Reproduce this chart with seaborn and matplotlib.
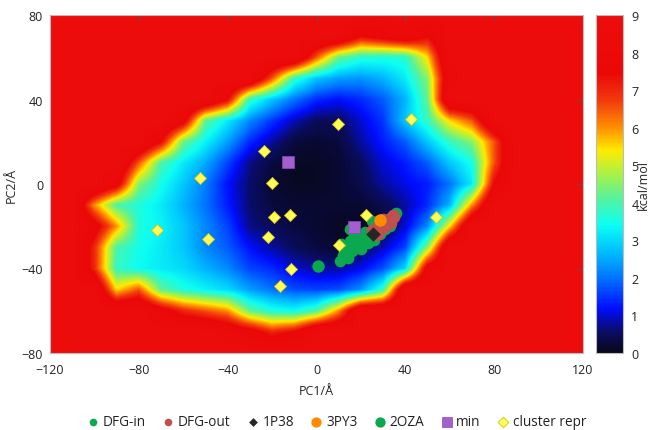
import matplotlib
matplotlib.use("Agg")
import matplotlib.pyplot as plt
import seaborn as sns
from matplotlib.colors import LinearSegmentedColormap

# free energy landscape (kcal/mol), every 10 A
# columns: PC1 = -120 ... 120, rows: PC2 = 80 ... -80
pc1_nodes = [-120, -110, -100, -90, -80, -70, -60, -50, -40, -30, -20, -10, 0,
             10, 20, 30, 40, 50, 60, 70, 80, 90, 100, 110, 120]
pc2_nodes = [80, 70, 60, 50, 40, 30, 20, 10, 0, -10, -20, -30, -40, -50, -60, -70, -80]
energy = [
    [9, 9, 9, 9, 9, 9, 9, 9, 9, 9, 9, 9, 9, 9, 9, 9, 9, 9, 9, 9, 9, 9, 9, 9, 9],
    [9, 9, 9, 9, 9, 9, 9, 9, 9, 9, 9, 9, 9, 9, 7.5, 8, 8.5, 7.5, 9, 9, 9, 9, 9, 9, 9],
    [9, 9, 9, 9, 9, 9, 9, 9, 9, 9, 9, 9, 6.5, 4.3, 3.7, 3.6, 3.7, 5.5, 9, 9, 9, 9, 9, 9, 9],
    [9, 9, 9, 9, 9, 9, 9, 9, 9, 9, 6.5, 3.8, 2.8, 2.4, 2.3, 2.6, 3.2, 4.5, 8.5, 9, 9, 9, 9, 9, 9],
    [9, 9, 9, 9, 9, 9, 9, 9, 7.5, 3.8, 2.8, 2.0, 1.4, 1.2, 1.4, 1.8, 2.6, 4.2, 9, 9, 9, 9, 9, 9, 9],
    [9, 9, 9, 9, 9, 9, 8, 4.2, 3.2, 2.2, 1.5, 0.9, 0.5, 0.5, 1.0, 1.5, 2.8, 3.8, 5.5, 6.5, 9, 9, 9, 9, 9],
    [9, 9, 9, 9, 9, 7.5, 4.3, 3.3, 2.4, 1.4, 0.8, 0.3, 0.2, 0.3, 0.8, 1.3, 1.8, 2.8, 3.8, 4.5, 6.5, 9, 9, 9, 9],
    [9, 9, 9, 9, 6.5, 4.0, 3.2, 2.5, 1.6, 0.7, 0.3, 0.1, 0.1, 0.2, 0.5, 1.0, 1.3, 1.8, 2.8, 3.5, 6.5, 9, 9, 9, 9],
    [9, 9, 9, 8, 4.5, 3.5, 2.8, 2.1, 1.2, 0.6, 0.2, 0.1, 0.1, 0.2, 0.4, 0.8, 1.1, 1.3, 2.0, 3.2, 7.5, 9, 9, 9, 9],
    [9, 9, 6, 4, 3.6, 3.2, 2.6, 2.0, 1.3, 0.6, 0.3, 0.2, 0.2, 0.2, 0.2, 0.4, 0.8, 1.4, 2.6, 6, 9, 9, 9, 9, 9],
    [9, 9, 8, 6, 3.6, 3.3, 2.8, 2.2, 1.6, 0.7, 0.5, 0.3, 0.2, 0.1, 0.1, 0.3, 1.0, 2.2, 5.5, 9, 9, 9, 9, 9, 9],
    [9, 9, 7, 4, 3.5, 3.2, 2.8, 2.2, 1.8, 1.2, 0.8, 0.5, 0.3, 0.2, 0.4, 0.9, 1.6, 4.5, 9, 9, 9, 9, 9, 9, 9],
    [9, 9, 7, 3.8, 3.4, 3.2, 3.0, 2.6, 2.2, 1.6, 1.4, 1.0, 0.8, 0.8, 1.1, 1.7, 3.0, 8, 9, 9, 9, 9, 9, 9, 9],
    [9, 9, 9, 5.5, 6.5, 4.2, 3.6, 3.3, 3.0, 2.4, 2.0, 1.7, 1.6, 1.7, 2.3, 3.8, 9, 9, 9, 9, 9, 9, 9, 9, 9],
    [9, 9, 9, 9, 9, 8, 7, 6.5, 6, 4.2, 3.6, 3.4, 4.0, 6.0, 9, 9, 9, 9, 9, 9, 9, 9, 9, 9, 9],
    [9, 9, 9, 9, 9, 9, 9, 9, 8.5, 8, 7, 7.5, 9, 9, 9, 9, 9, 9, 9, 9, 9, 9, 9, 9, 9],
    [9, 9, 9, 9, 9, 9, 9, 9, 9, 9, 9, 9, 9, 9, 9, 9, 9, 9, 9, 9, 9, 9, 9, 9, 9],
]

# structures projected on the PCs
dfg_in_pc1 = [10.5, 12, 14, 13, 15, 16, 18, 20, 21, 23, 17, 19.5, 22, 24.5, 26, 15, 25, 28.5, 31, 33, 36, 11]
dfg_in_pc2 = [-36.5, -33.5, -35, -30, -27, -31.5, -29, -31, -27, -28, -24, -25, -22.5, -24.5, -26.5,
              -21.5, -17.5, -23.5, -21.5, -20, -13.5, -28.5]
dfg_out_pc1 = [25, 27, 29, 31, 33, 34.5, 28, 31, 33.5, 30, 35, 26.5, 27.6, 29.9]
dfg_out_pc2 = [-22, -20.5, -19, -17.5, -16, -14.5, -22.5, -20.5, -18.5, -16.5, -15.5, -24, -23.7, -19.7]
p1p38 = ([25.5], [-23.7])
p3py3 = ([28.8], [-16.9])
p2oza = ([0.5], [-39])
min_pc1 = [-12.8, 17.1]
min_pc2 = [10.6, -20.2]
repr_pc1 = [-23.5, -52.5, -20, -19, -12, -72, -48.8, -21.8, -11.5, -16.5, 9.7, 42.5, 53.6, 22.2, 10.2]
repr_pc2 = [15.7, 3, 0.5, -15.5, -14.7, -21.7, -26, -25.2, -40.2, -48.4, 28.3, 30.6, -15.5, -14.5, -28.7]

sns.set_style("white")
plt.rcParams['font.family'] = ['Open Sans', 'DejaVu Sans']
plt.rcParams['text.color'] = '#222222'

fe_cmap = LinearSegmentedColormap.from_list("fe", [
    (0.0, (0.03, 0.03, 0.1)),
    (0.06, (0.04, 0.05, 0.38)),
    (0.13, (0.0, 0.05, 1.0)),
    (0.22, (0.0, 0.45, 1.0)),
    (0.3, (0.0, 0.75, 1.0)),
    (0.38, (0.05, 1.0, 0.95)),
    (0.46, (0.35, 0.95, 0.6)),
    (0.52, (0.62, 0.95, 0.32)),
    (0.6, (1.0, 0.92, 0.0)),
    (0.67, (1.0, 0.55, 0.0)),
    (0.75, (0.95, 0.22, 0.05)),
    (0.83, (0.92, 0.03, 0.03)),
    (1.0, (0.93, 0.05, 0.05)),
])

fig = plt.figure(figsize=(6.54, 4.31), dpi=100)
ax = fig.add_axes([50 / 654, 1 - 354 / 431, 533 / 654, 338 / 431])
cax = fig.add_axes([596 / 654, 1 - 354 / 431, 27 / 654, 338 / 431])

ext = [pc1_nodes[0] - 5, pc1_nodes[-1] + 5, pc2_nodes[-1] - 5, pc2_nodes[0] + 5]
im = ax.imshow(energy, extent=ext, origin='upper', cmap=fe_cmap, vmin=0, vmax=9,
               interpolation='bilinear', aspect='auto')

green = '#0aa84f'
sns.scatterplot(x=dfg_in_pc1, y=dfg_in_pc2, ax=ax, color=green, s=70, linewidth=0,
                label='DFG-in', zorder=3)
sns.scatterplot(x=dfg_out_pc1, y=dfg_out_pc2, ax=ax, color='#c0504d', s=70, linewidth=0,
                label='DFG-out', zorder=4)
sns.scatterplot(x=p1p38[0], y=p1p38[1], ax=ax, color='#262626', marker='D', s=55, linewidth=0,
                label='1P38', zorder=5)
sns.scatterplot(x=p3py3[0], y=p3py3[1], ax=ax, color='#ff8c00', s=80, linewidth=0,
                label='3PY3', zorder=5)
sns.scatterplot(x=p2oza[0], y=p2oza[1], ax=ax, color=green, s=80, linewidth=0,
                label='2OZA', zorder=5)
sns.scatterplot(x=min_pc1, y=min_pc2, ax=ax, color='#a35fcf', marker='s', s=75,
                edgecolor='#8a4ab3', linewidth=0.5, label='min', zorder=6)
sns.scatterplot(x=repr_pc1, y=repr_pc2, ax=ax, color='#ffff55', marker='D', s=38,
                edgecolor='#d4c020', linewidth=0.6, label='cluster repr', zorder=7)

ax.set_xlim(-120, 120)
ax.set_ylim(-80, 80)
ax.set_xticks([-120, -80, -40, 0, 40, 80, 120])
ax.set_yticks([-80, -40, 0, 40, 80])
ax.tick_params(direction='in', top=True, right=True, length=4, width=0.6,
               color='#555555', labelsize=9, labelcolor='#222222')
ax.tick_params(axis='x', pad=7)
ax.tick_params(axis='y', pad=5)
for sp in ax.spines.values():
    sp.set_color('#bbbbbb')
    sp.set_linewidth(0.8)
ax.set_xlabel('PC1/Å', fontsize=9, labelpad=6)
ax.set_ylabel('PC2/Å', fontsize=9, labelpad=3)

cb = fig.colorbar(im, cax=cax, ticks=list(range(10)))
cb.outline.set_edgecolor('#bbbbbb')
cb.outline.set_linewidth(0.8)
cax.tick_params(length=0, labelsize=9, labelcolor='#222222', pad=6)
cb.set_label('kcal/mol', fontsize=9, labelpad=-1)

handles, labels = ax.get_legend_handles_labels()
if ax.get_legend() is not None:
    ax.get_legend().remove()
leg = fig.legend(handles, labels, loc='center', bbox_to_anchor=(0.513, 1 - 423 / 431),
                 ncol=7, frameon=False, fontsize=9.8, handletextpad=0.1, handlelength=1.2,
                 columnspacing=1.05, borderaxespad=0)
for h, sz in zip(leg.legend_handles, [30, 30, 20, 55, 55, 45, 30]):
    h.set_sizes([sz])

fig.savefig("out.png", dpi=100)
